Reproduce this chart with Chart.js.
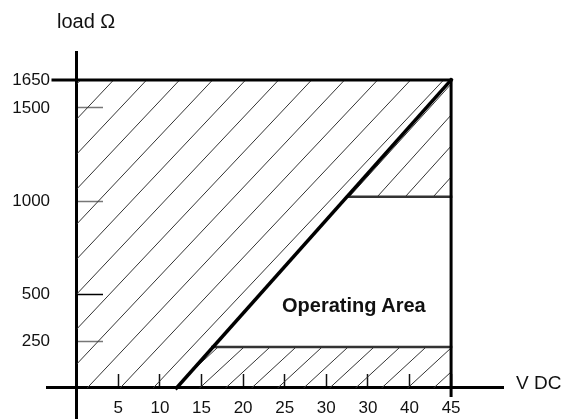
<!DOCTYPE html>
<html lang="en">
<head>
<meta charset="UTF-8">
<title>Load vs supply voltage</title>
<script src="https://cdn.jsdelivr.net/npm/chart.js"></script>
<style>
    html, body { margin: 0; padding: 0; background: #fff; }
    #wrap { position: relative; width: 568px; height: 419px; }
    #chart { position: absolute; left: 0; top: 0; }
    .lbl { position: absolute; font-family: "Liberation Sans", Arial, sans-serif; color: #111; line-height: 20px; white-space: nowrap; }
</style>
</head>
<body>
<div id="wrap">
    <canvas id="chart" width="568" height="419"></canvas>
    <div class="lbl" style="left:57px; top:11px; font-size:20px;">load Ω</div>
    <div class="lbl" style="left:516px; top:373px; font-size:19px;">V DC</div>
    <div class="lbl" style="left:282px; top:295px; font-size:20px; font-weight:bold;">Operating Area</div>
</div>
<script>
// axis ticks (the printed chart shows "30" twice)
const voltTicks = [5, 10, 15, 20, 25, 30, 35, 40, 45];
const voltLabels = ['5', '10', '15', '20', '25', '30', '30', '40', '45'];
const loadTicks = [250, 500, 1000, 1500, 1650];
const loadLabels = ['250', '500', '1000', '1500', '1650'];

// boundary lines: V DC / load in ohm
const limitV = [12, 45];     const limitLoad = [0, 1650];
const topV = [-2.85, 45];    const topLoad = [1650, 1650];
const rightV = [45, 45];     const rightLoad = [-40, 1650];
const upperV = [32.5, 45];   const upperLoad = [1025, 1025];
const lowerV = [16.3, 45];   const lowerLoad = [220, 220];

// hatched zones
const zoneAV = [0, 12, 45];       const zoneALoad = [0, 0, 1650];
const zoneBV = [32.5, 45];        const zoneBLoad = [1025, 1650];
const zoneCV = [12, 16.3, 45];    const zoneCLoad = [0, 220, 220];

function pts(xs, ys) {
    return xs.map((x, i) => ({x: x, y: ys[i]}));
}

// diagonal hatch tile, lines going up to the right
function hatch(w, h, c) {
    const cv = document.createElement('canvas');
    cv.width = w; cv.height = h;
    const g = cv.getContext('2d');
    g.strokeStyle = '#333';
    g.lineWidth = 1;
    for (let k = -2; k <= 2; k++) {
        g.beginPath();
        g.moveTo(c + k * w, 0);
        g.lineTo(c + k * w - w, h);
        g.stroke();
    }
    return g.createPattern(cv, 'repeat');
}

function edge(xs, ys, color, width) {
    return {data: pts(xs, ys), borderColor: color, borderWidth: width, fill: false, borderCapStyle: 'square'};
}
function zone(xs, ys, pattern, fillTo) {
    return {data: pts(xs, ys), borderWidth: 0, borderColor: 'rgba(0,0,0,0)', backgroundColor: pattern, fill: fillTo};
}

const font = {family: '"Liberation Sans", Arial, sans-serif', size: 17};
const yRange = {min: -166, max: 1800};

new Chart(document.getElementById('chart'), {
    type: 'line',
    data: {
        datasets: [
            edge(limitV, limitLoad, '#000', 3.5),
            edge(topV, topLoad, '#000', 3),
            edge(rightV, rightLoad, '#000', 3),
            edge(upperV, upperLoad, '#333', 2.5),
            edge(lowerV, lowerLoad, '#333', 2.5),
            zone(zoneAV, zoneALoad, hatch(33, 35, 24), {value: 1650}),
            zone(zoneBV, zoneBLoad, hatch(28, 31, 23), {value: 1025}),
            zone(zoneCV, zoneCLoad, hatch(26, 24, 22), 'origin')
        ]
    },
    options: {
        responsive: false,
        animation: false,
        layout: {padding: {left: 47, right: 65, top: 52, bottom: 0}},
        plugins: {legend: {display: false}, tooltip: {enabled: false}},
        elements: {point: {radius: 0}, line: {tension: 0}},
        scales: {
            x: {
                type: 'linear', min: -3.57, max: 51.24,
                position: {y: 0}, z: 1,
                afterBuildTicks: s => { s.ticks = voltTicks.map(v => ({value: v})); },
                ticks: {autoSkip: false, maxRotation: 0, padding: 25, color: '#111', font: font,
                    callback: (v, i) => voltLabels[i]},
                grid: {drawOnChartArea: false, tickLength: -15, tickColor: '#111', tickWidth: 1.5},
                border: {color: '#000', width: 3}
            },
            // axis line and inward tick marks
            y: {
                type: 'linear', min: yRange.min, max: yRange.max,
                position: {x: 0}, z: 1,
                afterBuildTicks: s => { s.ticks = loadTicks.map(v => ({value: v})); },
                ticks: {display: false},
                grid: {drawOnChartArea: false, tickLength: -28, tickWidth: 1.5,
                    tickColor: c => c.tick && c.tick.value === 1650 ? 'rgba(0,0,0,0)' : (c.tick && c.tick.value === 500 ? '#000' : '#777')},
                border: {color: '#000', width: 3}
            },
            // tick labels, set left of the axis line
            yText: {
                type: 'linear', min: yRange.min, max: yRange.max,
                position: {x: -3.2}, z: 1,
                afterBuildTicks: s => { s.ticks = loadTicks.map(v => ({value: v})); },
                ticks: {autoSkip: false, padding: 0, color: '#111',
                    font: {family: font.family, size: 17, lineHeight: 0.01},
                    callback: (v, i) => loadLabels[i]},
                grid: {display: false},
                border: {display: false}
            }
        }
    }
});
</script>
</body>
</html>
